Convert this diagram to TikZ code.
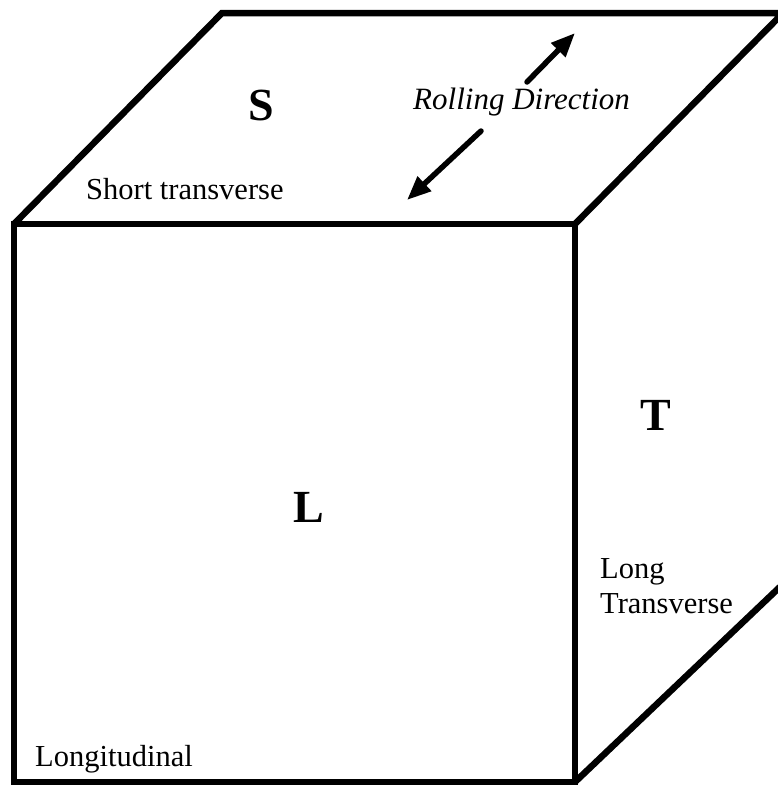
\documentclass[tikz,border=0pt]{standalone}
\usepackage{fontspec}
\setmainfont{Liberation Serif}
\usetikzlibrary{arrows.meta}
\tikzset{
  edge/.style={line width=6.5pt, line join=miter, line cap=butt},
  rollarrow/.style={line width=5.5pt, line cap=round, -{Triangle[length=24pt,width=19pt]}},
  label/.style={inner sep=0pt, anchor=base west, font=\fontsize{30.5}{35}\selectfont},
  face/.style={inner sep=0pt, font=\fontsize{46}{52}\selectfont\bfseries}
}
\begin{document}
\begin{tikzpicture}[x=1pt,y=-1pt]
\useasboundingbox (0,0) rectangle (778,787);
\clip (0,0) rectangle (778,787);
\coordinate (FTL) at (14,224);
\coordinate (FTR) at (575,224);
\coordinate (FBL) at (14,782);
\coordinate (FBR) at (575,782);
\coordinate (BTL) at (222,13);
\coordinate (BTR) at (783,13);
\coordinate (BBR) at (783,584);
% cube
\draw[edge] (FTL) -- (FTR) -- (FBR) -- (FBL) -- cycle;
\draw[edge] (FTL) -- (BTL) -- (BTR) -- (FTR);
\draw[edge] (FBR) -- (BBR);
% face letters
\node[face] (S) at (261,105) {S};
\node[face] (L) at (309,507) {L};
\node[face] (T) at (656,415) {T};
% labels
\node[label] (short) at (86,199) {Short transverse};
\node[label] (longi) at (35,766) {Longitudinal};
\node[label] (long1) at (600,578) {Long};
\node[label] (long2) at (600,613) {Transverse};
\node[label, font=\fontsize{31}{36}\selectfont\itshape] (roll) at (413,109) {Rolling Direction};
% rolling direction arrows
\coordinate (a1s) at (527,82);
\coordinate (a1e) at (575,33);
\coordinate (a2s) at (481,131);
\coordinate (a2e) at (407,200);
\draw[rollarrow] (a1s) -- (a1e);
\draw[rollarrow] (a2s) -- (a2e);
\end{tikzpicture}
\end{document}
